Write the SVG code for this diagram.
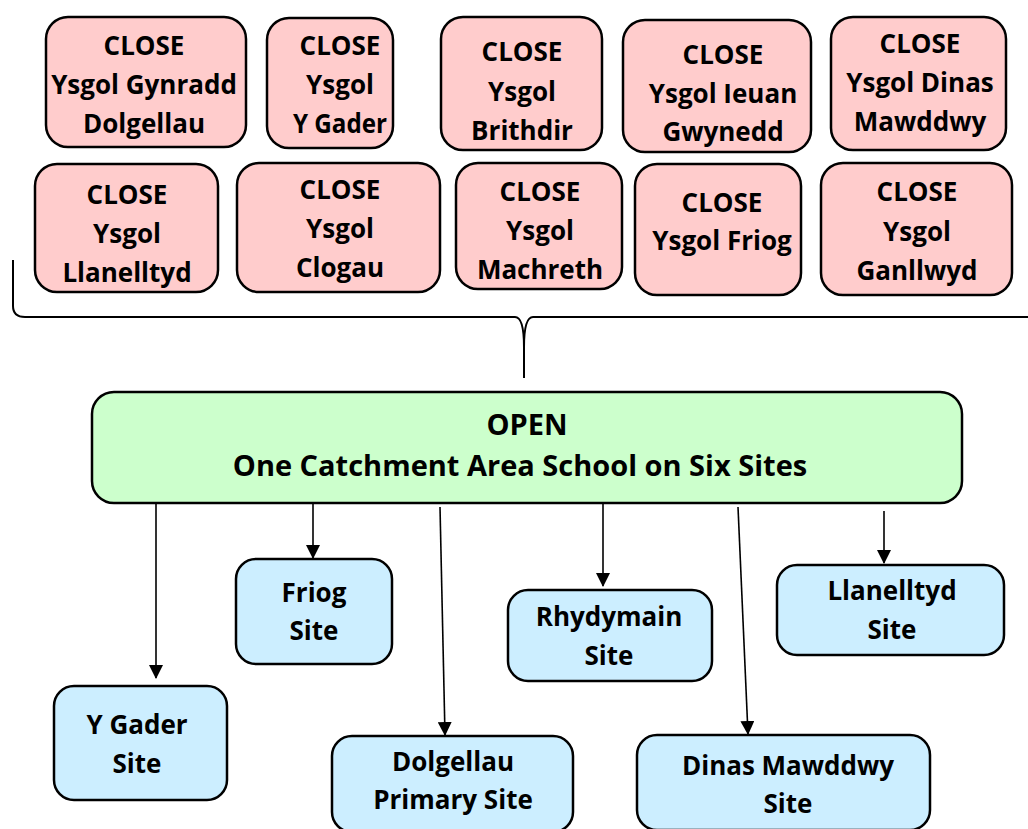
<svg xmlns="http://www.w3.org/2000/svg" width="1028" height="829" viewBox="0 0 1028 829">
<style>
.close rect{fill:#ffcccc;stroke:#000;stroke-width:2.5}
.open rect{fill:#ccffcc;stroke:#000;stroke-width:2.5}
.site rect{fill:#cceeff;stroke:#000;stroke-width:2.5}
text{font-family:"Open Sans",Lato,"Liberation Sans",sans-serif;font-weight:bold;font-size:26px;fill:#000;text-anchor:middle}
.open text{font-size:29px}
.conn line{stroke:#000;stroke-width:1.6}
</style>
<defs>
<marker id="ah" markerWidth="14" markerHeight="14" viewBox="0 0 14 14" refX="13" refY="7" orient="auto" markerUnits="userSpaceOnUse">
<path d="M0,0 L14,7 L0,14 Z" fill="#000"/>
</marker>
</defs>
<rect width="1028" height="829" fill="#fff"/>

<g id="c1" class="close"><rect x="46" y="17" width="200" height="130" rx="22"/><text x="144" y="55">CLOSE</text><text x="144" y="94">Ysgol Gynradd</text><text x="144" y="133">Dolgellau</text></g>
<g id="c2" class="close"><rect x="267" y="18" width="126" height="130" rx="22"/><text x="340" y="55">CLOSE</text><text x="340" y="94">Ysgol</text><text x="340" y="133" textLength="94" lengthAdjust="spacingAndGlyphs">Y Gader</text></g>
<g id="c3" class="close"><rect x="441" y="17" width="161" height="133" rx="22"/><text x="522" y="61">CLOSE</text><text x="522" y="101">Ysgol</text><text x="522" y="140">Brithdir</text></g>
<g id="c4" class="close"><rect x="623" y="20" width="188" height="132" rx="22"/><text x="723" y="64">CLOSE</text><text x="723" y="103">Ysgol Ieuan</text><text x="723" y="141">Gwynedd</text></g>
<g id="c5" class="close"><rect x="831" y="17" width="175" height="133" rx="22"/><text x="920" y="53">CLOSE</text><text x="920" y="92">Ysgol Dinas</text><text x="920" y="131">Mawddwy</text></g>

<g id="c6" class="close"><rect x="35" y="164" width="183" height="128" rx="22"/><text x="127" y="204">CLOSE</text><text x="127" y="243">Ysgol</text><text x="127" y="282">Llanelltyd</text></g>
<g id="c7" class="close"><rect x="237" y="163" width="203" height="129" rx="22"/><text x="340" y="199">CLOSE</text><text x="340" y="238">Ysgol</text><text x="340" y="277">Clogau</text></g>
<g id="c8" class="close"><rect x="456" y="163" width="166" height="126" rx="22"/><text x="540" y="201">CLOSE</text><text x="540" y="240">Ysgol</text><text x="540" y="279">Machreth</text></g>
<g id="c9" class="close"><rect x="635" y="164" width="166" height="131" rx="22"/><text x="722" y="212">CLOSE</text><text x="722" y="250">Ysgol Friog</text></g>
<g id="c10" class="close"><rect x="821" y="163" width="191" height="132" rx="22"/><text x="917" y="201">CLOSE</text><text x="917" y="241">Ysgol</text><text x="917" y="280">Ganllwyd</text></g>

<g id="brace"><path d="M13,260 L13,306 Q13,317 25,317 L515,317 C522,317 524,330 524,347 L524,378 M524,347 C524,330 526,317 533,317 L1028,317" fill="none" stroke="#000" stroke-width="2"/></g>

<g id="open" class="open"><rect x="92" y="392" width="870" height="111" rx="22"/><text x="527" y="435">OPEN</text><text x="520" y="476">One Catchment Area School on Six Sites</text></g>

<g id="friog" class="site"><rect x="236" y="559" width="156" height="105" rx="20"/><text x="314" y="602">Friog</text><text x="314" y="640">Site</text></g>
<g id="ygader" class="site"><rect x="54" y="686" width="173" height="114" rx="20"/><text x="137" y="734">Y Gader</text><text x="137" y="773">Site</text></g>
<g id="dolgellau" class="site"><rect x="332" y="736" width="241" height="96" rx="20"/><text x="453" y="771">Dolgellau</text><text x="453" y="809">Primary Site</text></g>
<g id="rhydymain" class="site"><rect x="508" y="590" width="204" height="91" rx="20"/><text x="609" y="626">Rhydymain</text><text x="609" y="665">Site</text></g>
<g id="dinas" class="site"><rect x="637" y="735" width="293" height="95" rx="20"/><text x="788" y="775">Dinas Mawddwy</text><text x="788" y="813">Site</text></g>
<g id="llanelltyd" class="site"><rect x="777" y="565" width="227" height="90" rx="20"/><text x="892" y="600">Llanelltyd</text><text x="892" y="639">Site</text></g>

<g id="connectors" class="conn">
<line x1="156" y1="504" x2="156" y2="678" marker-end="url(#ah)"/>
<line x1="313" y1="504" x2="313" y2="558" marker-end="url(#ah)"/>
<line x1="440" y1="507" x2="445" y2="735" marker-end="url(#ah)"/>
<line x1="603" y1="504" x2="603" y2="586" marker-end="url(#ah)"/>
<line x1="738" y1="507" x2="748" y2="734" marker-end="url(#ah)"/>
<line x1="884" y1="511" x2="884" y2="563" marker-end="url(#ah)"/>
</g>
</svg>
